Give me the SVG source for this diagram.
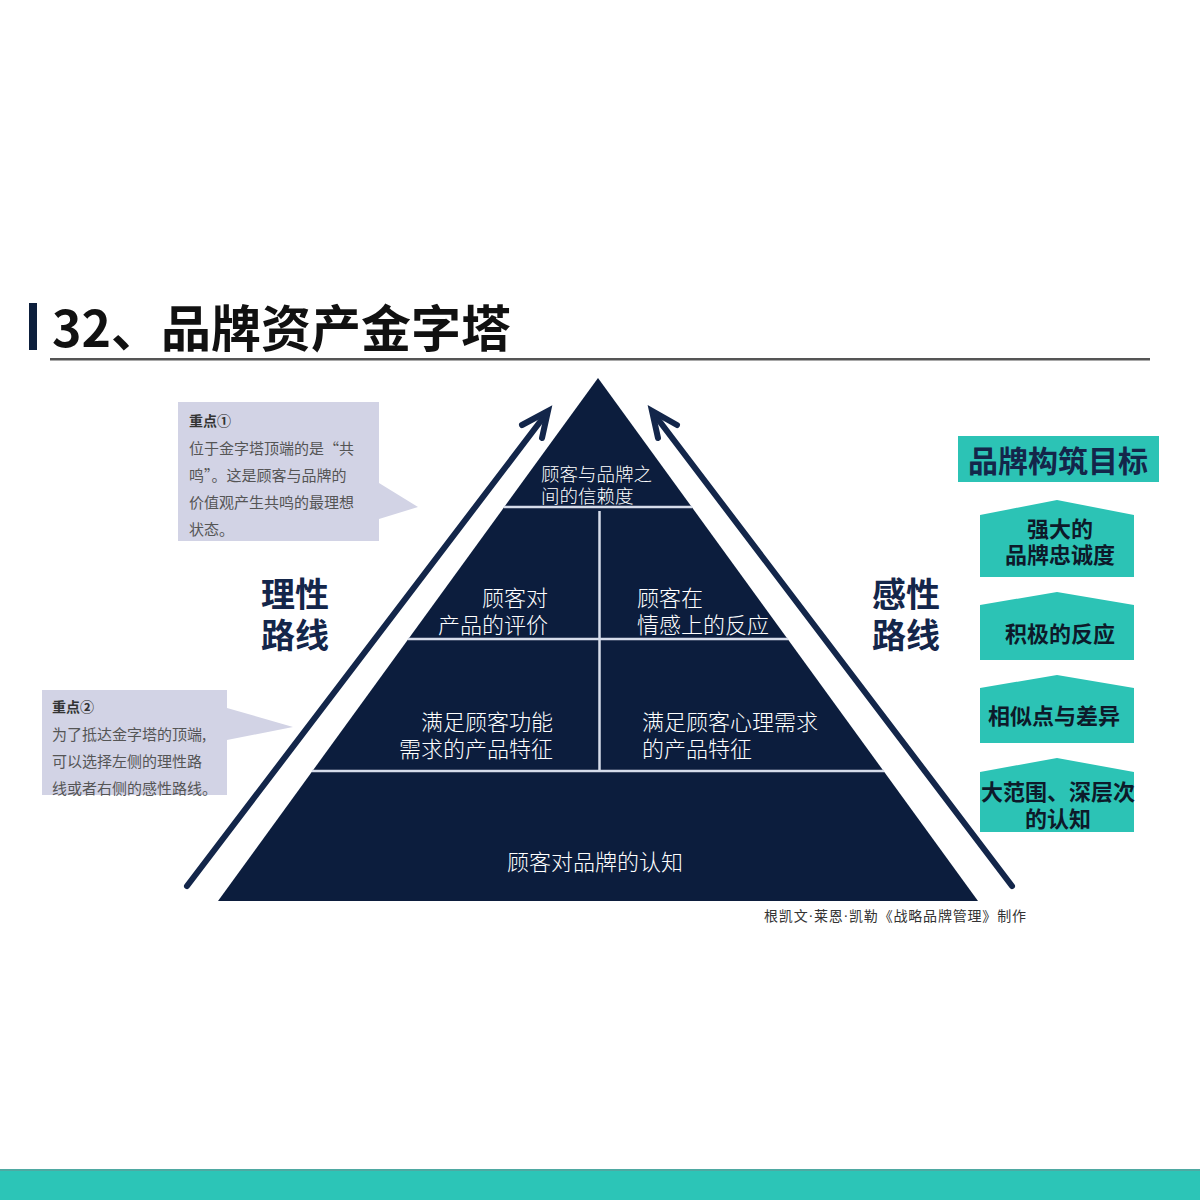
<svg xmlns="http://www.w3.org/2000/svg" width="1200" height="1200" viewBox="0 0 1200 1200">
<style>
.tier{font-family:"Noto Sans CJK SC",sans-serif;fill:#ffffff;font-size:22px;font-weight:300;dominant-baseline:central}
.tier-s{font-size:18.5px}
.route{font-family:"Noto Sans CJK SC",sans-serif;fill:#14264a;font-size:34px;font-weight:700;dominant-baseline:central}
.note{font-family:"Noto Sans CJK SC",sans-serif;fill:#555555;font-size:15px;dominant-baseline:central}
.noteh{font-family:"Noto Sans CJK SC",sans-serif;fill:#333333;font-size:14px;font-weight:700;dominant-baseline:central}
.goal{font-family:"Noto Sans CJK SC",sans-serif;fill:#0d1a2a;font-size:22px;font-weight:700;dominant-baseline:central;text-anchor:middle}
.sep{stroke:#d6dcea;stroke-width:2.5}
.arrow{stroke:#13264a;stroke-width:6;fill:none;stroke-linecap:round}
.teal{fill:#2cc3b5}
</style>
<rect width="1200" height="1200" fill="#ffffff"/>

<g id="title">
  <rect x="29" y="303" width="8" height="47" fill="#0d1f3c"/>
  <text x="52" y="347" font-family="'Noto Sans CJK SC',sans-serif" font-size="50" font-weight="700" fill="#111111">32、品牌资产金字塔</text>
  <rect x="50" y="358" width="1100" height="2.5" fill="#555555"/>
</g>

<g id="pyramid">
  <polygon points="598,378 978,901 218,901" fill="#0c1d3d"/>
  <line class="sep" x1="504" y1="507" x2="692" y2="507"/>
  <line class="sep" x1="408" y1="639" x2="788" y2="639"/>
  <line class="sep" x1="312" y1="771" x2="884" y2="771"/>
  <line class="sep" x1="599.5" y1="511" x2="599.5" y2="771"/>
</g>

<g id="tier-top">
  <text class="tier tier-s" x="541" y="473">顾客与品牌之</text>
  <text class="tier tier-s" x="541" y="495">间的信赖度</text>
</g>
<g id="tier-judgment">
  <text class="tier" x="548" y="596" text-anchor="end">顾客对</text>
  <text class="tier" x="548" y="623" text-anchor="end">产品的评价</text>
</g>
<g id="tier-feelings">
  <text class="tier" x="637" y="596">顾客在</text>
  <text class="tier" x="637" y="623">情感上的反应</text>
</g>
<g id="tier-performance">
  <text class="tier" x="553" y="720" text-anchor="end">满足顾客功能</text>
  <text class="tier" x="553" y="747" text-anchor="end">需求的产品特征</text>
</g>
<g id="tier-imagery">
  <text class="tier" x="642" y="720">满足顾客心理需求</text>
  <text class="tier" x="642" y="747">的产品特征</text>
</g>
<g id="tier-salience">
  <text class="tier" x="595" y="860" text-anchor="middle">顾客对品牌的认知</text>
</g>

<g id="connectors">
  <line class="arrow" x1="187" y1="886" x2="546" y2="414"/>
  <polyline class="arrow" points="522,425 548,411 542,438" stroke-linejoin="miter"/>
  <line class="arrow" x1="1012" y1="886" x2="654" y2="414"/>
  <polyline class="arrow" points="677,425 652,411 658,438" stroke-linejoin="miter"/>
</g>

<g id="route-rational">
  <text class="route" x="295" y="592" text-anchor="middle">理性</text>
  <text class="route" x="295" y="633" text-anchor="middle">路线</text>
</g>
<g id="route-emotional">
  <text class="route" x="906" y="592" text-anchor="middle">感性</text>
  <text class="route" x="906" y="633" text-anchor="middle">路线</text>
</g>

<g id="callout-1">
  <path d="M178,402 H379 V483 L418,507 L379,519 V541 H178 Z" fill="#d2d3e5"/>
  <text class="noteh" x="189" y="420">重点①</text>
  <text class="note" x="189" y="447">位于金字塔顶端的是“共</text>
  <text class="note" x="189" y="474">鸣”。这是顾客与品牌的</text>
  <text class="note" x="189" y="501">价值观产生共鸣的最理想</text>
  <text class="note" x="189" y="528">状态。</text>
</g>

<g id="callout-2">
  <path d="M42,690 H227 V708 L293,727 L227,740 V795 H42 Z" fill="#d2d3e5"/>
  <text class="noteh" x="52" y="706">重点②</text>
  <text class="note" x="52" y="733">为了抵达金字塔的顶端,</text>
  <text class="note" x="52" y="760">可以选择左侧的理性路</text>
  <text class="note" x="52" y="787">线或者右侧的感性路线。</text>
</g>

<g id="goals-header">
  <rect class="teal" x="958" y="436" width="201" height="46"/>
  <text x="1058" y="459" font-family="'Noto Sans CJK SC',sans-serif" font-size="30" font-weight="700" fill="#14264a" text-anchor="middle" dominant-baseline="central">品牌构筑目标</text>
</g>
<g id="goal-resonance">
  <polygon class="teal" points="980,515 1057,500 1134,515 1134,577 980,577"/>
  <text class="goal" x="1060" y="527">强大的</text>
  <text class="goal" x="1060" y="553">品牌忠诚度</text>
</g>
<g id="goal-response">
  <polygon class="teal" points="980,605 1057,592 1134,605 1134,660 980,660"/>
  <text class="goal" x="1060" y="632">积极的反应</text>
</g>
<g id="goal-meaning">
  <polygon class="teal" points="980,688 1057,675 1134,688 1134,743 980,743"/>
  <text class="goal" x="1054" y="714">相似点与差异</text>
</g>
<g id="goal-identity">
  <polygon class="teal" points="980,772 1057,758 1134,772 1134,832 980,832"/>
  <text class="goal" x="1058" y="790">大范围、深层次</text>
  <text class="goal" x="1058" y="817">的认知</text>
</g>

<g id="source">
  <text x="764" y="916" font-family="'Liberation Serif','Noto Sans CJK SC',serif" font-size="14" fill="#333333" dominant-baseline="central" textLength="262">根凯文·莱恩·凯勒《战略品牌管理》制作</text>
</g>

<g id="footer">
  <rect x="0" y="1169" width="1200" height="31" fill="#2cc5b7"/>
  <rect x="0" y="1169" width="1200" height="2" fill="#4fa9a2"/>
</g>
</svg>
